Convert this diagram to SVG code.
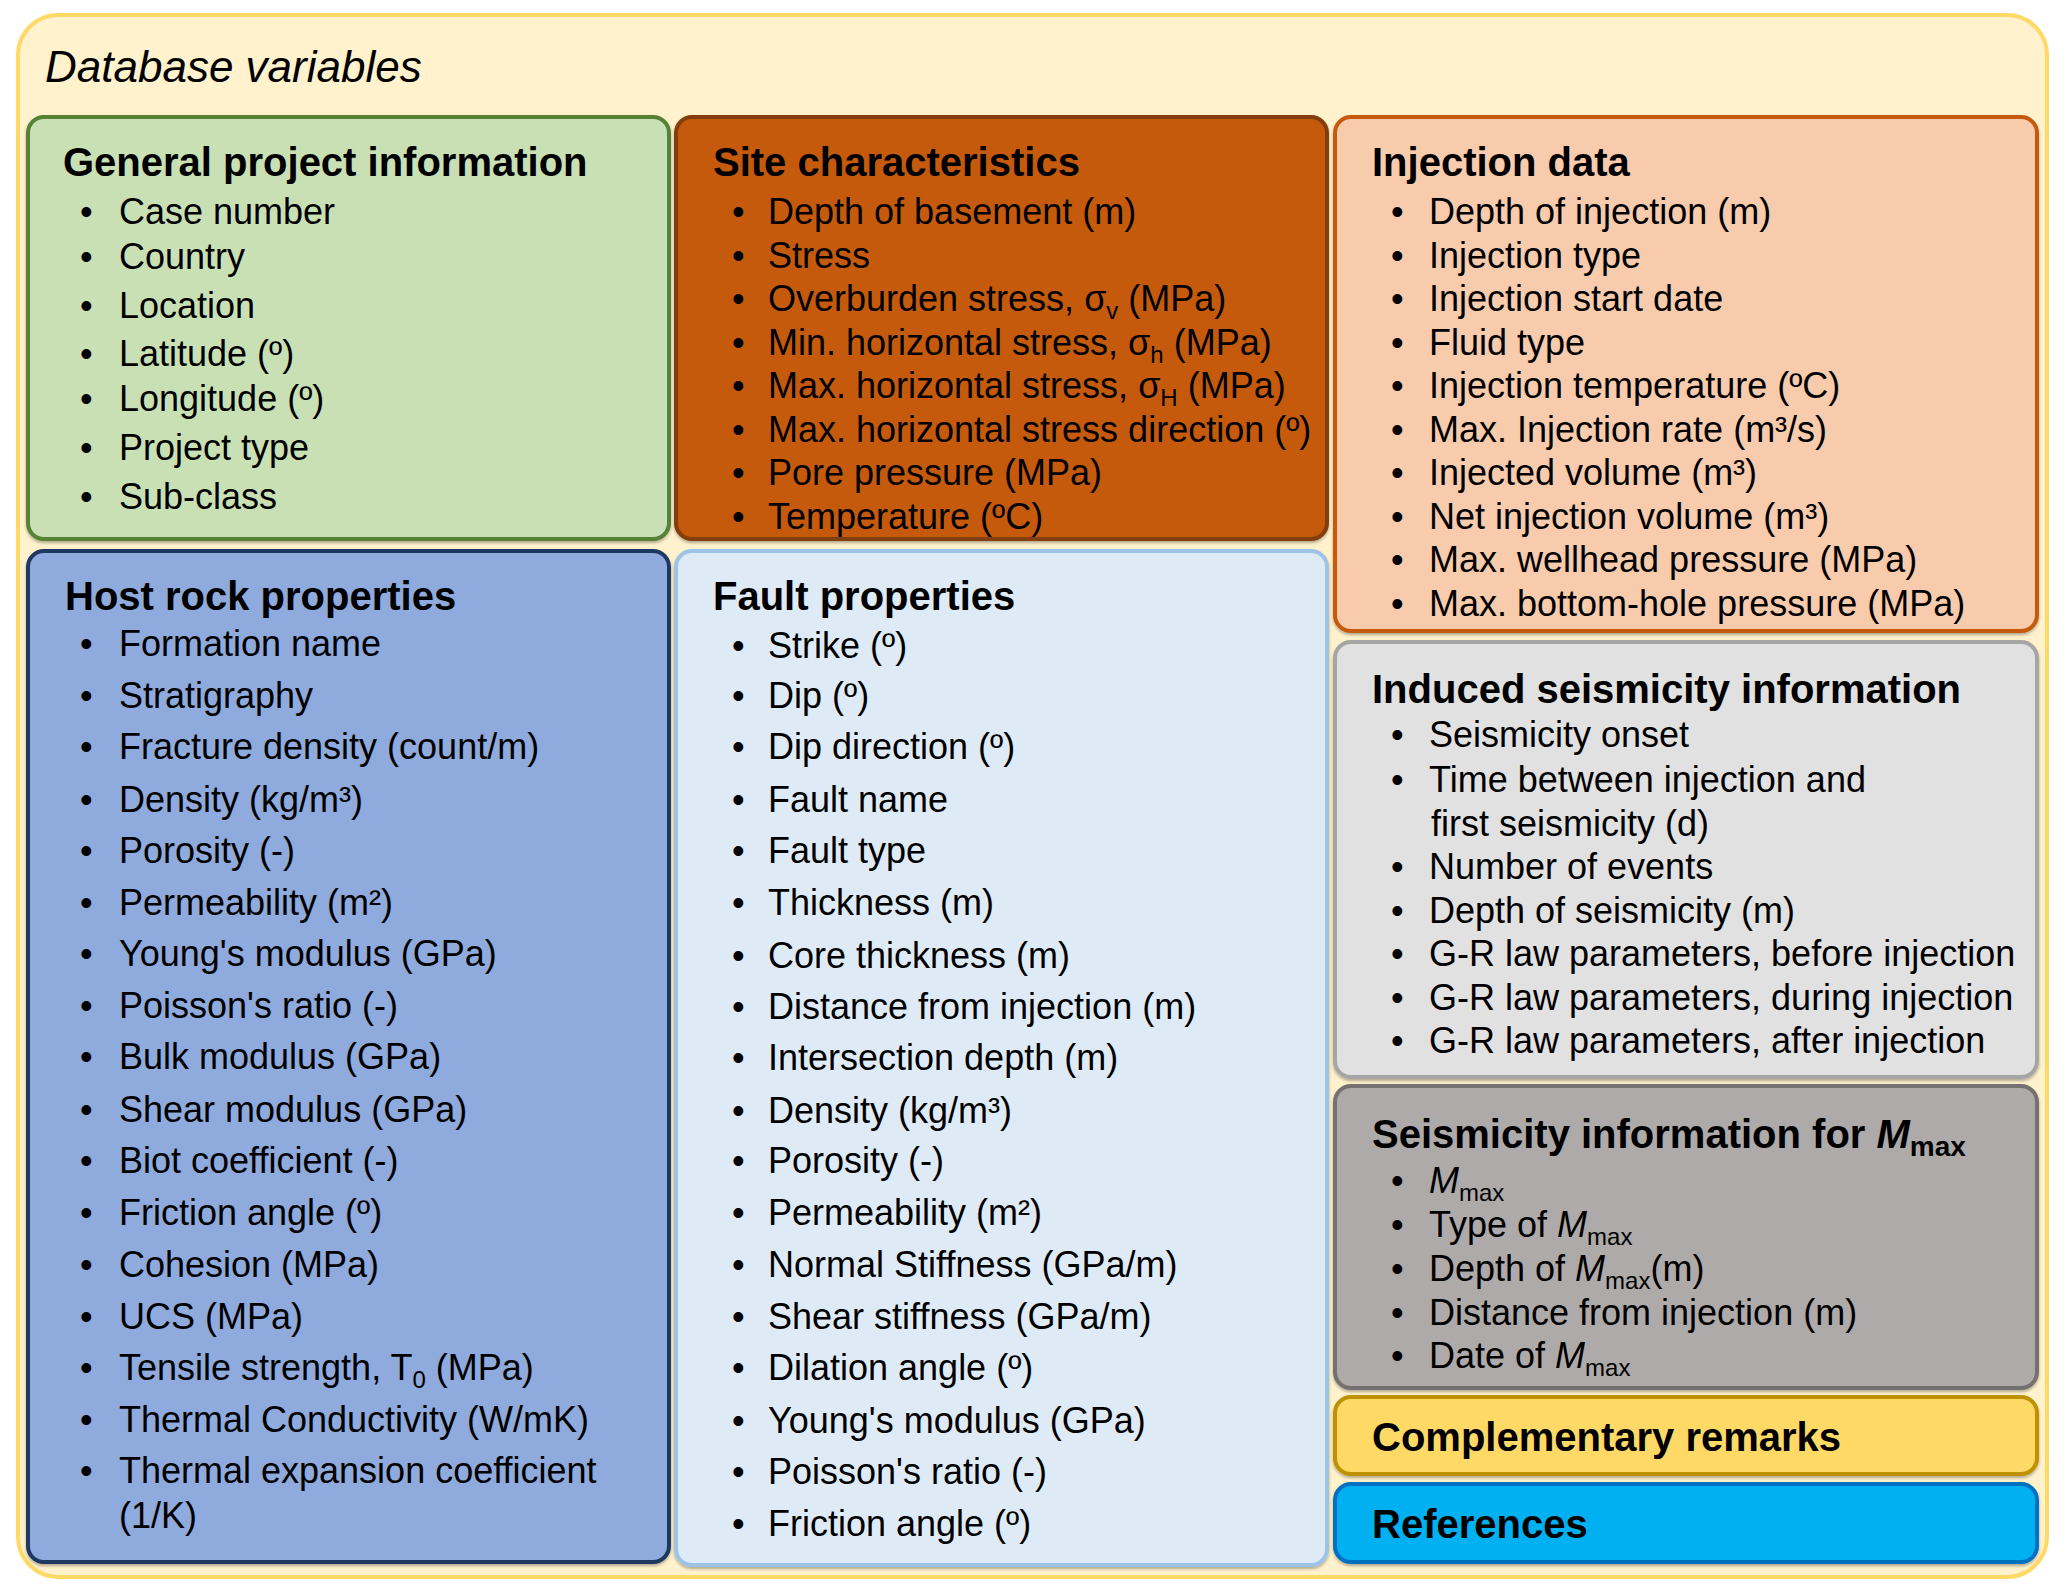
<svg xmlns="http://www.w3.org/2000/svg" width="2067" height="1590" viewBox="0 0 2067 1590">
<style>
text{font-family:"Liberation Sans",Arial,sans-serif;fill:#000}
.t{font-size:44px;font-style:italic}
.h{font-size:40px;font-weight:bold}
.b{font-size:36px}
.box{stroke-width:4}
.sub{font-size:24px}
.subb{font-size:28px}
.i{font-style:italic}
</style>
<defs>
<filter id="sh" x="-5%" y="-5%" width="110%" height="115%">
<feDropShadow dx="0" dy="2" stdDeviation="1.5" flood-color="#000" flood-opacity="0.3"/>
</filter>
</defs>
<rect x="18" y="15" width="2029" height="1562" rx="40" fill="#FFF2CC" stroke="#FFD966" stroke-width="4"/>
<text class="t" x="45" y="82">Database variables</text>

<g id="general">
<rect class="box" x="28" y="117" width="641" height="422" rx="16" fill="#C9E0B5" stroke="#548235" filter="url(#sh)"/>
<text class="h" x="63" y="176">General project information</text>
<g class="b">
<text class="b" y="224"><tspan x="80">•</tspan><tspan x="119">Case number</tspan></text>
<text class="b" y="269"><tspan x="80">•</tspan><tspan x="119">Country</tspan></text>
<text class="b" y="318"><tspan x="80">•</tspan><tspan x="119">Location</tspan></text>
<text class="b" y="366"><tspan x="80">•</tspan><tspan x="119">Latitude  (º)</tspan></text>
<text class="b" y="411"><tspan x="80">•</tspan><tspan x="119">Longitude  (º)</tspan></text>
<text class="b" y="460"><tspan x="80">•</tspan><tspan x="119">Project type</tspan></text>
<text class="b" y="509"><tspan x="80">•</tspan><tspan x="119">Sub-class</tspan></text>
</g>
</g>

<g id="site">
<rect class="box" x="676" y="117" width="651" height="422" rx="16" fill="#C55A11" stroke="#843C0C" filter="url(#sh)"/>
<text class="h" x="713" y="176">Site characteristics</text>
<text class="b" y="224"><tspan x="732">•</tspan><tspan x="768">Depth of basement (m)</tspan></text>
<text class="b" y="268"><tspan x="732">•</tspan><tspan x="768">Stress</tspan></text>
<text class="b" y="311"><tspan x="732">•</tspan><tspan x="768">Overburden  stress, σ</tspan><tspan class="sub" dy="8">v</tspan><tspan dy="-8"> (MPa)</tspan></text>
<text class="b" y="355"><tspan x="732">•</tspan><tspan x="768">Min.  horizontal  stress, σ</tspan><tspan class="sub" dy="8">h</tspan><tspan dy="-8"> (MPa)</tspan></text>
<text class="b" y="398"><tspan x="732">•</tspan><tspan x="768">Max.  horizontal  stress, σ</tspan><tspan class="sub" dy="8">H</tspan><tspan dy="-8"> (MPa)</tspan></text>
<text class="b" y="442"><tspan x="732">•</tspan><tspan x="768">Max.  horizontal  stress direction  (º)</tspan></text>
<text class="b" y="485"><tspan x="732">•</tspan><tspan x="768">Pore pressure (MPa)</tspan></text>
<text class="b" y="529"><tspan x="732">•</tspan><tspan x="768">Temperature  (ºC)</tspan></text>
</g>

<g id="injection">
<rect class="box" x="1335" y="117" width="702" height="514" rx="16" fill="#F8CBAD" stroke="#C55A11" filter="url(#sh)"/>
<text class="h" x="1372" y="176">Injection  data</text>
<text class="b" y="224"><tspan x="1391">•</tspan><tspan x="1429">Depth of injection  (m)</tspan></text>
<text class="b" y="268"><tspan x="1391">•</tspan><tspan x="1429">Injection  type</tspan></text>
<text class="b" y="311"><tspan x="1391">•</tspan><tspan x="1429">Injection  start date</tspan></text>
<text class="b" y="355"><tspan x="1391">•</tspan><tspan x="1429">Fluid  type</tspan></text>
<text class="b" y="398"><tspan x="1391">•</tspan><tspan x="1429">Injection  temperature  (ºC)</tspan></text>
<text class="b" y="442"><tspan x="1391">•</tspan><tspan x="1429">Max.  Injection  rate (m³/s)</tspan></text>
<text class="b" y="485"><tspan x="1391">•</tspan><tspan x="1429">Injected  volume (m³)</tspan></text>
<text class="b" y="529"><tspan x="1391">•</tspan><tspan x="1429">Net injection  volume (m³)</tspan></text>
<text class="b" y="572"><tspan x="1391">•</tspan><tspan x="1429">Max.  wellhead  pressure (MPa)</tspan></text>
<text class="b" y="616"><tspan x="1391">•</tspan><tspan x="1429">Max.  bottom-hole  pressure (MPa)</tspan></text>
</g>

<g id="hostrock">
<rect class="box" x="28" y="551" width="641" height="1011" rx="16" fill="#8FAADC" stroke="#1F3864" filter="url(#sh)"/>
<text class="h" x="65" y="610">Host rock properties</text>
<text class="b" y="656"><tspan x="80">•</tspan><tspan x="119">Formation name</tspan></text>
<text class="b" y="708"><tspan x="80">•</tspan><tspan x="119">Stratigraphy</tspan></text>
<text class="b" y="759"><tspan x="80">•</tspan><tspan x="119">Fracture density (count/m)</tspan></text>
<text class="b" y="812"><tspan x="80">•</tspan><tspan x="119">Density (kg/m³)</tspan></text>
<text class="b" y="863"><tspan x="80">•</tspan><tspan x="119">Porosity (-)</tspan></text>
<text class="b" y="915"><tspan x="80">•</tspan><tspan x="119">Permeability  (m²)</tspan></text>
<text class="b" y="966"><tspan x="80">•</tspan><tspan x="119">Young's modulus (GPa)</tspan></text>
<text class="b" y="1018"><tspan x="80">•</tspan><tspan x="119">Poisson's ratio (-)</tspan></text>
<text class="b" y="1069"><tspan x="80">•</tspan><tspan x="119">Bulk modulus (GPa)</tspan></text>
<text class="b" y="1122"><tspan x="80">•</tspan><tspan x="119">Shear modulus (GPa)</tspan></text>
<text class="b" y="1173"><tspan x="80">•</tspan><tspan x="119">Biot coefficient (-)</tspan></text>
<text class="b" y="1225"><tspan x="80">•</tspan><tspan x="119">Friction angle  (º)</tspan></text>
<text class="b" y="1277"><tspan x="80">•</tspan><tspan x="119">Cohesion (MPa)</tspan></text>
<text class="b" y="1329"><tspan x="80">•</tspan><tspan x="119">UCS (MPa)</tspan></text>
<text class="b" y="1380"><tspan x="80">•</tspan><tspan x="119">Tensile strength,  T</tspan><tspan class="sub" dy="8">0</tspan><tspan dy="-8"> (MPa)</tspan></text>
<text class="b" y="1432"><tspan x="80">•</tspan><tspan x="119">Thermal Conductivity  (W/mK)</tspan></text>
<text class="b" y="1483"><tspan x="80">•</tspan><tspan x="119">Thermal expansion  coefficient</tspan></text>
<text class="b" x="119" y="1528">(1/K)</text>
</g>

<g id="fault">
<rect class="box" x="676" y="551" width="651" height="1014" rx="16" fill="#DEEBF7" stroke="#9DC3E6" filter="url(#sh)"/>
<text class="h" x="713" y="610">Fault properties</text>
<text class="b" y="658"><tspan x="732">•</tspan><tspan x="768">Strike  (º)</tspan></text>
<text class="b" y="708"><tspan x="732">•</tspan><tspan x="768">Dip  (º)</tspan></text>
<text class="b" y="759"><tspan x="732">•</tspan><tspan x="768">Dip direction  (º)</tspan></text>
<text class="b" y="812"><tspan x="732">•</tspan><tspan x="768">Fault name</tspan></text>
<text class="b" y="863"><tspan x="732">•</tspan><tspan x="768">Fault type</tspan></text>
<text class="b" y="915"><tspan x="732">•</tspan><tspan x="768">Thickness  (m)</tspan></text>
<text class="b" y="968"><tspan x="732">•</tspan><tspan x="768">Core thickness  (m)</tspan></text>
<text class="b" y="1019"><tspan x="732">•</tspan><tspan x="768">Distance from injection  (m)</tspan></text>
<text class="b" y="1070"><tspan x="732">•</tspan><tspan x="768">Intersection depth (m)</tspan></text>
<text class="b" y="1123"><tspan x="732">•</tspan><tspan x="768">Density (kg/m³)</tspan></text>
<text class="b" y="1173"><tspan x="732">•</tspan><tspan x="768">Porosity (-)</tspan></text>
<text class="b" y="1225"><tspan x="732">•</tspan><tspan x="768">Permeability  (m²)</tspan></text>
<text class="b" y="1277"><tspan x="732">•</tspan><tspan x="768">Normal Stiffness (GPa/m)</tspan></text>
<text class="b" y="1329"><tspan x="732">•</tspan><tspan x="768">Shear stiffness (GPa/m)</tspan></text>
<text class="b" y="1380"><tspan x="732">•</tspan><tspan x="768">Dilation angle  (º)</tspan></text>
<text class="b" y="1433"><tspan x="732">•</tspan><tspan x="768">Young's modulus (GPa)</tspan></text>
<text class="b" y="1484"><tspan x="732">•</tspan><tspan x="768">Poisson's ratio (-)</tspan></text>
<text class="b" y="1536"><tspan x="732">•</tspan><tspan x="768">Friction angle  (º)</tspan></text>
</g>

<g id="induced">
<rect class="box" x="1335" y="642" width="702" height="435" rx="16" fill="#E1E1E1" stroke="#A6A6A6" filter="url(#sh)"/>
<text class="h" x="1372" y="703">Induced  seismicity  information</text>
<text class="b" y="747"><tspan x="1391">•</tspan><tspan x="1429">Seismicity onset</tspan></text>
<text class="b" y="792"><tspan x="1391">•</tspan><tspan x="1429">Time between  injection  and</tspan></text>
<text class="b" x="1431" y="836">first seismicity (d)</text>
<text class="b" y="879"><tspan x="1391">•</tspan><tspan x="1429">Number of events</tspan></text>
<text class="b" y="923"><tspan x="1391">•</tspan><tspan x="1429">Depth of seismicity (m)</tspan></text>
<text class="b" y="966"><tspan x="1391">•</tspan><tspan x="1429">G-R law parameters, before  injection</tspan></text>
<text class="b" y="1010"><tspan x="1391">•</tspan><tspan x="1429">G-R law parameters, during  injection</tspan></text>
<text class="b" y="1053"><tspan x="1391">•</tspan><tspan x="1429">G-R law parameters, after  injection</tspan></text>
</g>

<g id="mmax">
<rect class="box" x="1335" y="1086" width="702" height="302" rx="16" fill="#AEAAAA" stroke="#767171" filter="url(#sh)"/>
<text class="h" x="1372" y="1148">Seismicity  information  for <tspan class="i">M</tspan><tspan class="subb" dy="8">max</tspan></text>
<text class="b" y="1193"><tspan x="1391">•</tspan><tspan x="1429" class="i">M</tspan><tspan class="sub" dy="8">max</tspan></text>
<text class="b" y="1237"><tspan x="1391">•</tspan><tspan x="1429">Type of </tspan><tspan class="i">M</tspan><tspan class="sub" dy="8">max</tspan></text>
<text class="b" y="1281"><tspan x="1391">•</tspan><tspan x="1429">Depth of </tspan><tspan class="i">M</tspan><tspan class="sub" dy="8">max</tspan><tspan dy="-8">(m)</tspan></text>
<text class="b" y="1325"><tspan x="1391">•</tspan><tspan x="1429">Distance from injection  (m)</tspan></text>
<text class="b" y="1368"><tspan x="1391">•</tspan><tspan x="1429">Date of </tspan><tspan class="i">M</tspan><tspan class="sub" dy="8">max</tspan></text>
</g>

<g id="remarks">
<rect class="box" x="1335" y="1397" width="702" height="77" rx="16" fill="#FFD966" stroke="#BF9000" filter="url(#sh)"/>
<text class="h" x="1372" y="1451">Complementary  remarks</text>
</g>

<g id="references">
<rect class="box" x="1335" y="1484" width="702" height="78" rx="16" fill="#00B0F0" stroke="#0070C0" filter="url(#sh)"/>
<text class="h" x="1372" y="1538">References</text>
</g>
</svg>
